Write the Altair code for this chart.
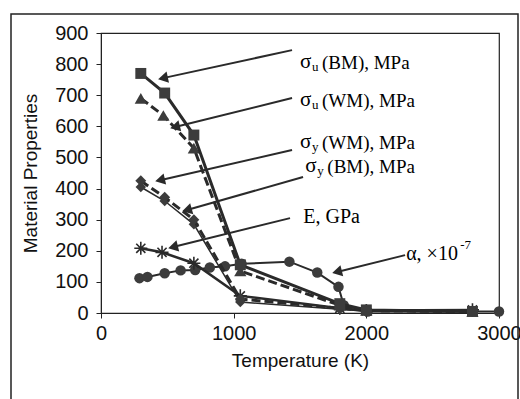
import altair as alt
import pandas as pd
import numpy as np

# ---- data ----
su_bm_T = [300, 480, 700, 1050, 1800, 2000, 2800]
su_bm = [770, 707, 572, 155, 30, 10, 5]
su_wm_T = [300, 470, 700, 1050, 1800, 2000, 2800]
su_wm = [690, 635, 530, 135, 25, 8, 5]
sy_wm_T = [300, 480, 700, 1050, 1800, 2000, 2800]
sy_wm = [425, 372, 300, 45, 15, 8, 5]
sy_bm_T = [300, 480, 700, 1050, 1800, 2000, 2800]
sy_bm = [405, 360, 285, 35, 12, 6, 4]
E_T = [300, 460, 700, 1050, 1800, 2000, 2800]
E_vals = [208, 195, 160, 55, 15, 8, 10]
alpha_T = [290, 350, 480, 600, 710, 820, 935, 1060, 1420, 1630, 1790, 1830, 2010, 3000]
alpha_vals = [112, 116, 128, 137, 138, 146, 150, 158, 165, 130, 84, 25, 5, 5]

x_ticks = [0, 1000, 2000, 3000]
y_ticks = [0, 100, 200, 300, 400, 500, 600, 700, 800, 900]

# annotation labels (data units) and arrows
lab_main = ["σ", "σ", "σ", "σ"]
lab_sub = ["u", "u", "y", "y"]
lab_rest = ["(BM), MPa", "(WM), MPa", "(WM), MPa", "(BM), MPa"]
lab_T = [1500, 1500, 1500, 1540]
lab_v = [807, 685, 551, 472]
e_label = "E, GPa"
e_T, e_v = 1525, 309
a_label = "α, ×10"
a_sup = "-7"
a_T, a_v = 2300, 190

arrow_tail_T = [1440, 1440, 1440, 1523, 1425, 2292]
arrow_tail_v = [845, 691, 524, 437, 305, 186]
arrow_head_T = [467, 558, 445, 648, 543, 1779]
arrow_head_v = [755, 598, 427, 331, 212, 132]

W, H = 398, 280
XMAX, YMAX = 3000, 900
INK = "#2a2a2a"
MK = "#3c3c3c"

xs = alt.Scale(domain=[0, XMAX], nice=False)
ys = alt.Scale(domain=[0, YMAX], nice=False)
XAX = alt.Axis(values=x_ticks, format="d", title="Temperature (K)")
YAX = alt.Axis(values=y_ticks, format="d", title="Material Properties")

X = alt.X("T:Q", scale=xs, axis=XAX)
Y = alt.Y("v:Q", scale=ys, axis=YAX)

STAR = "M-1,0L1,0M0,-1L0,1M-0.7,-0.7L0.7,0.7M-0.7,0.7L0.7,-0.7"

def series(T, v, width, dash, shape, size, filled=True):
    df = pd.DataFrame({"T": T, "v": v})
    base = alt.Chart(df)
    line_kw = dict(color=INK, strokeWidth=width)
    if dash:
        line_kw["strokeDash"] = dash
    ln = base.mark_line(**line_kw).encode(x=X, y=Y)
    if filled:
        pt = base.mark_point(shape=shape, size=size, filled=True, color=MK, opacity=1).encode(x=X, y=Y)
    else:
        pt = base.mark_point(shape=shape, size=size, filled=False, color=INK, strokeWidth=1.6, opacity=1).encode(x=X, y=Y)
    return [ln, pt]

layers = []
layers += series(alpha_T, alpha_vals, 2, None, "circle", 110)
layers += series(E_T, E_vals, 2.5, None, STAR, 170, filled=False)
layers += series(sy_bm_T, sy_bm, 1.5, None, "diamond", 110)
layers += series(sy_wm_T, sy_wm, 3, [9, 4], "diamond", 120)
layers += series(su_wm_T, su_wm, 3, [9, 4], "triangle-up", 150)
layers += series(su_bm_T, su_bm, 3, None, "square", 120)

# arrows
sx, sy = W / XMAX, H / YMAX
ang = []
for tT, tv, hT, hv in zip(arrow_tail_T, arrow_tail_v, arrow_head_T, arrow_head_v):
    dx = (hT - tT) * sx
    dy = -(hv - tv) * sy
    ang.append(float(np.degrees(np.arctan2(dy, dx)) % 360))
adf = pd.DataFrame({"T": arrow_tail_T, "v": arrow_tail_v,
                    "T2": arrow_head_T, "v2": arrow_head_v, "ang": ang})
layers.append(alt.Chart(adf).mark_rule(color=INK, strokeWidth=2).encode(
    x=X, y=Y, x2="T2:Q", y2="v2:Q"))
hdf = pd.DataFrame({"T": arrow_head_T, "v": arrow_head_v, "ang": ang})
layers.append(alt.Chart(hdf).mark_point(shape="triangle-right", size=130, filled=True,
                                        color=INK, opacity=1).encode(
    x=X, y=Y, angle=alt.Angle("ang:Q", scale=None)))

# labels
ldf = pd.DataFrame({"T": lab_T, "v": lab_v, "m": lab_main, "s": lab_sub, "r": lab_rest})
SERIF = "Liberation Serif"
layers.append(alt.Chart(ldf).mark_text(align="left", baseline="middle", font=SERIF,
                                       fontSize=21, color="black").encode(
    x=X, y=Y, text="m:N"))
layers.append(alt.Chart(ldf).mark_text(align="left", baseline="middle", font=SERIF,
                                       fontSize=13, color="black", dx=12, dy=5).encode(
    x=X, y=Y, text="s:N"))
layers.append(alt.Chart(ldf).mark_text(align="left", baseline="middle", font=SERIF,
                                       fontSize=19, color="black", dx=22, dy=1).encode(
    x=X, y=Y, text="r:N"))
edf = pd.DataFrame({"T": [e_T], "v": [e_v], "t": [e_label]})
layers.append(alt.Chart(edf).mark_text(align="left", baseline="middle", font=SERIF,
                                       fontSize=20, color="black").encode(
    x=X, y=Y, text="t:N"))
adf2 = pd.DataFrame({"T": [a_T], "v": [a_v], "t": [a_label], "s": [a_sup]})
layers.append(alt.Chart(adf2).mark_text(align="left", baseline="middle", font=SERIF,
                                        fontSize=20, color="black").encode(
    x=X, y=Y, text="t:N"))
layers.append(alt.Chart(adf2).mark_text(align="left", baseline="middle", font=SERIF,
                                        fontSize=13, color="black", dx=54, dy=-9).encode(
    x=X, y=Y, text="s:N"))

# outer frame
frame = alt.Chart(pd.DataFrame({"a": [0]})).mark_rect(
    fill="transparent", stroke="#222", strokeWidth=1.5).encode(
    x=alt.value(-90), x2=alt.value(417), y=alt.value(-19), y2=alt.value(380))
layers.append(frame)

chart = alt.layer(*layers).properties(
    width=W, height=H,
    autosize=alt.AutoSizeParams(type="none"),
    padding={"left": 101, "top": 33, "right": 21, "bottom": 86},
    background="white",
).configure_view(stroke="#222", strokeWidth=1.2).configure_axis(
    grid=False, domainColor="#222", tickColor="#222", tickSize=5,
    labelFont="Liberation Sans", labelFontSize=20, labelColor="#111",
    titleFont="Liberation Sans", titleFontSize=19, titleFontWeight="normal",
    titleColor="#111", labelOverlap=False,
).configure_axisX(labelPadding=5, titlePadding=8, labelFlush=False
).configure_axisY(labelPadding=8, titlePadding=14)

chart.save("out.html", embed_options={"renderer": "svg", "actions": False})
